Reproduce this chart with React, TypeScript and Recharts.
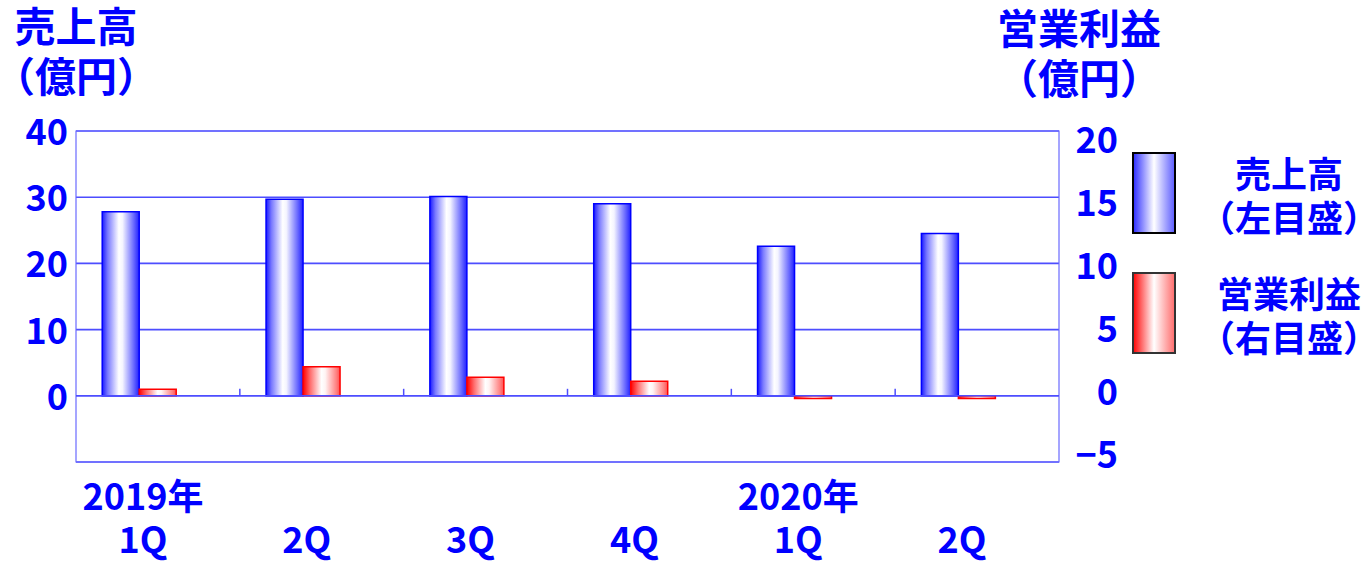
import React from "react";
import {
  BarChart,
  Bar,
  XAxis,
  YAxis,
  CartesianGrid,
  ReferenceArea,
  ReferenceLine,
} from "recharts";

const categories = ["2019年1Q", "2019年2Q", "2019年3Q", "2019年4Q", "2020年1Q", "2020年2Q"];
const yearLabels = ["2019年", "", "", "", "2020年", ""];
const quarterLabels = ["1Q", "2Q", "3Q", "4Q", "1Q", "2Q"];
const sales = [27.8, 29.7, 30.1, 29.0, 22.6, 24.5];
const profit = [0.5, 2.2, 1.4, 1.1, -0.2, -0.2];
const leftTicks = [-10, 0, 10, 20, 30, 40];
const leftTickLabels = ["", "0", "10", "20", "30", "40"];
const rightTicks = [-5, 0, 5, 10, 15, 20];
const rightTickLabels = ["−5", "0", "5", "10", "15", "20"];

const data = categories.map((c, i) => ({
  name: c,
  sales: sales[i],
  profit: profit[i],
  pad: null as number | null,
}));

const FONT = "'Noto Sans CJK JP', 'Noto Sans', sans-serif";
const BLUE = "#0000ff";
const GRID = "#4d4dff";

const CatTick = (props: any) => {
  const { x, y, payload } = props;
  const i = payload.index;
  return (
    <g>
      <text
        x={x - 15}
        y={y + 48}
        textAnchor="middle"
        fontFamily={FONT}
        fontWeight="bold"
        fontSize={36}
        fill={BLUE}
      >
        {yearLabels[i]}
      </text>
      <text
        x={x - 15}
        y={y + 91}
        textAnchor="middle"
        fontFamily={FONT}
        fontWeight="bold"
        fontSize={36}
        fill={BLUE}
      >
        {quarterLabels[i]}
      </text>
    </g>
  );
};

const LeftTick = (props: any) => {
  const { x, y, payload } = props;
  const idx = leftTicks.indexOf(payload.value);
  return (
    <text
      x={x - 8}
      y={y + 14}
      textAnchor="end"
      fontFamily={FONT}
      fontWeight="bold"
      fontSize={36}
      fill={BLUE}
    >
      {leftTickLabels[idx]}
    </text>
  );
};

const RightTick = (props: any) => {
  const { x, y, payload } = props;
  const idx = rightTicks.indexOf(payload.value);
  const shift = 8.5 - (20 - payload.value) * 0.64;
  return (
    <text
      x={x + 59}
      y={y + 13 + shift}
      textAnchor="end"
      fontFamily={FONT}
      fontWeight="bold"
      fontSize={36}
      fill={BLUE}
    >
      {rightTickLabels[idx]}
    </text>
  );
};

const ZeroAxis = (props: any) => {
  const { x1, y1, x2 } = props;
  const n = categories.length;
  const step = (x2 - x1) / n;
  const ticks = [];
  for (let i = 1; i < n; i++) {
    const tx = x1 + step * i;
    ticks.push(<line key={i} x1={tx} x2={tx} y1={y1} y2={y1 - 7} stroke={GRID} strokeWidth={1.5} />);
  }
  return (
    <g>
      <line x1={x1} x2={x2} y1={y1} y2={y1} stroke={GRID} strokeWidth={1.6} />
      {ticks}
    </g>
  );
};

const txt = (x: number, y: number, s: string, size: number, anchor: string = "middle") => (
  <text
    x={x}
    y={y}
    textAnchor={anchor as any}
    fontFamily={FONT}
    fontWeight="bold"
    fontSize={size}
    fill={BLUE}
  >
    {s}
  </text>
);

export default function App() {
  return (
    <div style={{ position: "absolute", left: 0, top: 0, width: 1368, height: 563, background: "#fff" }}>
      <BarChart
        width={1368}
        height={563}
        data={data}
        margin={{ top: 131, right: 249, bottom: 41, left: 16 }}
        barCategoryGap="16%"
        barGap={0}
      >
        <defs>
          <linearGradient id="gBlue" x1="0" y1="0" x2="1" y2="0">
            <stop offset="0%" stopColor="#1a1aff" />
            <stop offset="15%" stopColor="#7a7aff" />
            <stop offset="45%" stopColor="#ffffff" />
            <stop offset="55%" stopColor="#f4f4ff" />
            <stop offset="85%" stopColor="#6a6aff" />
            <stop offset="100%" stopColor="#2020ff" />
          </linearGradient>
          <linearGradient id="gRed" x1="0" y1="0" x2="1" y2="0">
            <stop offset="0%" stopColor="#ff0000" />
            <stop offset="20%" stopColor="#ff7070" />
            <stop offset="50%" stopColor="#ffffff" />
            <stop offset="60%" stopColor="#fff4f4" />
            <stop offset="90%" stopColor="#ff8080" />
            <stop offset="100%" stopColor="#ff5050" />
          </linearGradient>
          <linearGradient id="gBlueLeg" x1="0" y1="0" x2="1" y2="0">
            <stop offset="0%" stopColor="#2a2aff" />
            <stop offset="50%" stopColor="#ffffff" />
            <stop offset="100%" stopColor="#5a5aff" />
          </linearGradient>
          <linearGradient id="gRedLeg" x1="0" y1="0" x2="1" y2="0">
            <stop offset="0%" stopColor="#ff0000" />
            <stop offset="50%" stopColor="#ffffff" />
            <stop offset="100%" stopColor="#ff6a6a" />
          </linearGradient>
        </defs>
        <CartesianGrid yAxisId="left" vertical={false} stroke={GRID} strokeWidth={1.6} />
        <ReferenceArea yAxisId="left" y1={-10} y2={40} fill="none" stroke="#6a6aff" strokeWidth={1.2} />
        <XAxis
          dataKey="name"
          height={60}
          axisLine={false}
          tickLine={false}
          tickSize={0}
          tickMargin={0}
          interval={0}
          tick={<CatTick />}
        />
        <YAxis
          yAxisId="left"
          width={60}
          domain={[-10, 40]}
          ticks={leftTicks}
          axisLine={false}
          tickLine={false}
          tickSize={0}
          tickMargin={0}
          interval={0}
          tick={<LeftTick />}
        />
        <YAxis
          yAxisId="right"
          orientation="right"
          width={60}
          domain={[-5, 20]}
          ticks={rightTicks}
          axisLine={false}
          tickLine={false}
          tickSize={0}
          tickMargin={0}
          interval={0}
          tick={<RightTick />}
        />
        <Bar yAxisId="left" dataKey="sales" fill="url(#gBlue)" stroke="#0000ff" strokeWidth={1.5} isAnimationActive={false} />
        <Bar yAxisId="right" dataKey="profit" fill="url(#gRed)" stroke="#ff0000" strokeWidth={1.5} isAnimationActive={false} />
        <Bar yAxisId="right" dataKey="pad" fill="none" stroke="none" isAnimationActive={false} legendType="none" />
        <ReferenceLine yAxisId="left" y={0} shape={ZeroAxis} />
      </BarChart>
      <svg
        width={1368}
        height={563}
        style={{ position: "absolute", left: 0, top: 0, pointerEvents: "none" }}
      >
        {txt(76, 42, "売上高", 41)}
        {txt(76, 92, "（億円）", 41)}
        {txt(1079, 44, "営業利益", 41)}
        {txt(1079, 94, "（億円）", 41)}
        <rect x={1133} y={153} width={42} height={80} fill="url(#gBlueLeg)" stroke="#000" strokeWidth={2} />
        <rect x={1133} y={273} width={42} height={80} fill="url(#gRedLeg)" stroke="#333" strokeWidth={2} />
        {txt(1289, 188, "売上高", 36)}
        {txt(1289, 232, "（左目盛）", 36)}
        {txt(1289, 308, "営業利益", 36)}
        {txt(1289, 352, "（右目盛）", 36)}
      </svg>
    </div>
  );
}
